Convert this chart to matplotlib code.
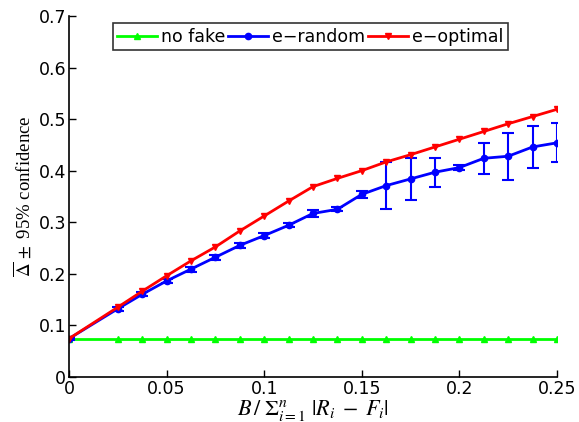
import matplotlib
matplotlib.use('Agg')
import matplotlib.pyplot as plt
import numpy as np

# budget fraction on the x axis
budget = [0, 0.025, 0.0375, 0.05, 0.0625, 0.075, 0.0875, 0.1, 0.1125, 0.125,
          0.1375, 0.15, 0.1625, 0.175, 0.1875, 0.2, 0.2125, 0.225, 0.2375, 0.25]

no_fake = [0.074] * len(budget)

e_random = [0.074, 0.132, 0.160, 0.186, 0.209, 0.232, 0.255, 0.274, 0.294, 0.317,
            0.325, 0.354, 0.371, 0.384, 0.397, 0.406, 0.424, 0.428, 0.446, 0.454]
e_random_err = [0.002, 0.004, 0.004, 0.004, 0.005, 0.005, 0.005, 0.005, 0.004, 0.006,
                0.004, 0.007, 0.046, 0.041, 0.028, 0.005, 0.030, 0.046, 0.040, 0.038]

e_optimal = [0.074, 0.135, 0.166, 0.196, 0.225, 0.252, 0.283, 0.312, 0.341, 0.369,
             0.385, 0.400, 0.417, 0.431, 0.446, 0.461, 0.476, 0.491, 0.505, 0.519]

plt.rcParams['font.family'] = ['DejaVu Sans']
plt.rcParams['mathtext.fontset'] = 'stix'

fig = plt.figure(figsize=(5.79, 4.22), dpi=100)
ax = fig.add_axes([0.119, 0.107, 0.843, 0.855])

# green flat baseline
l1, = ax.plot(budget, no_fake, color='#00ff00', marker='^', markersize=5, linewidth=2,
              label='no fake')

# blue line, then its confidence bars
l2, = ax.plot(budget, e_random, color='#0000ff', marker='o', markersize=4.5,
              linewidth=2, label='e\u2212random')
ax.errorbar(budget, e_random, yerr=e_random_err, fmt='none', ecolor='#0000ff',
            elinewidth=1.5, capsize=4, capthick=1.5)

# red on top
l3, = ax.plot(budget, e_optimal, color='#ff0000', marker='v', markersize=5, linewidth=2,
              label='e\u2212optimal')

ax.set_xlim(0, 0.25)
ax.set_ylim(0, 0.7)
ax.set_xticks([0, 0.05, 0.1, 0.15, 0.2, 0.25])
ax.set_xticklabels(['0', '0.05', '0.1', '0.15', '0.2', '0.25'])
ax.set_yticks(np.arange(0, 0.71, 0.1))
ax.set_yticklabels(['0', '0.1', '0.2', '0.3', '0.4', '0.5', '0.6', '0.7'])
ax.tick_params(direction='in', labelsize=12.5, length=5, width=1, pad=2)

ax.spines['top'].set_visible(False)
ax.spines['right'].set_visible(False)
ax.spines['left'].set_linewidth(1.2)
ax.spines['bottom'].set_linewidth(1.2)

ax.set_xlabel(r'$B\,/\;\Sigma_{i=1}^{n}\;|R_i\;-\;F_i|$', fontsize=16, labelpad=0)
ax.set_ylabel(r'$\overline{\Delta}\,\pm$ 95% confidence', fontsize=13.5,
              family='Liberation Serif', labelpad=3)

leg = ax.legend(handles=[l1, l2, l3], loc='upper left', bbox_to_anchor=(0.09, 0.98),
                ncol=3, fontsize=12.5, frameon=True, fancybox=False, handlelength=2.3,
                handletextpad=0.2, columnspacing=0.2, borderpad=0.25,
                borderaxespad=0)
leg.get_frame().set_edgecolor('black')
leg.get_frame().set_linewidth(1.2)

fig.savefig('out.png', dpi=100)
